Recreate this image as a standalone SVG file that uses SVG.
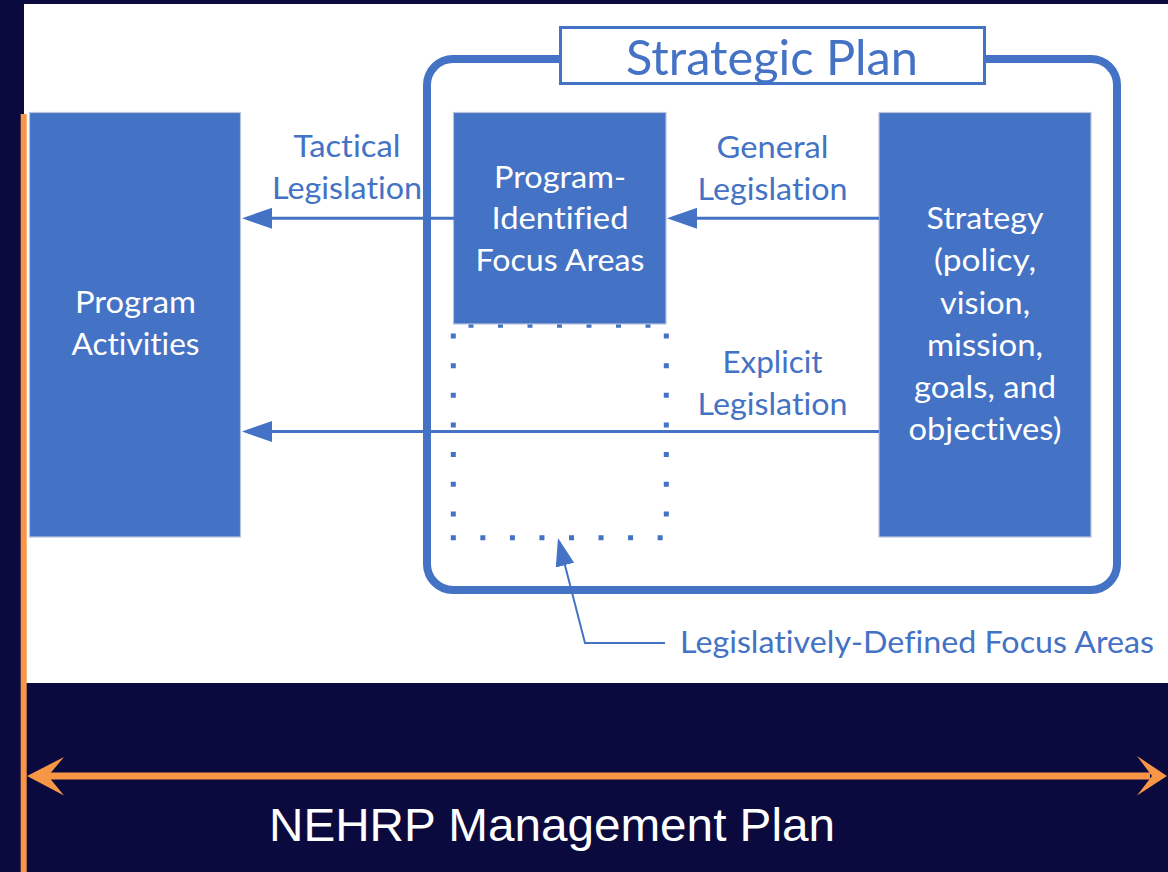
<svg xmlns="http://www.w3.org/2000/svg" width="1168" height="872" viewBox="0 0 1168 872">
<style>
.box{fill:#4472C4;stroke:#b9c4dc;stroke-width:1.2}
.lbl{font-family:Lato,"Open Sans","Noto Sans",sans-serif;font-size:31px;fill:#4472C4;text-anchor:middle;font-variant-ligatures:none}
.wht{font-family:Lato,"Open Sans","Noto Sans",sans-serif;font-size:31px;fill:#ffffff;text-anchor:middle;font-variant-ligatures:none}
.con{stroke:#4472C4;stroke-width:3;fill:none}
.dot{stroke:#4472C4;stroke-width:5;fill:none}
.org{stroke:#F79646;fill:none}
</style>
<defs>
<marker id="arr" markerUnits="userSpaceOnUse" viewBox="0 0 30 21" refX="25" refY="10.5" markerWidth="30" markerHeight="21" orient="auto">
<path d="M0,0 L30,10.5 L0,21 z" fill="#4472C4"/>
</marker>
<marker id="arrS" markerUnits="userSpaceOnUse" viewBox="0 0 28 19" refX="24" refY="9.5" markerWidth="28" markerHeight="19" orient="auto">
<path d="M0,0 L28,9.5 L0,19 z" fill="#4472C4"/>
</marker>
</defs>
<rect x="0" y="0" width="1168" height="872" fill="#0a0a3e"/>
<rect x="24" y="4" width="1144" height="679" fill="#ffffff"/>

<g id="strategic-plan">
<rect x="427" y="59" width="690" height="531" rx="26" ry="26" fill="none" stroke="#4472C4" stroke-width="8"/>
<rect x="560.5" y="27.5" width="424" height="56" fill="#ffffff" stroke="#4472C4" stroke-width="3"/>
<text x="772" y="75" class="lbl" style="font-size:47.5px" textLength="292" lengthAdjust="spacingAndGlyphs">Strategic Plan</text>
</g>

<g id="legislatively-defined-focus-areas">
<line class="dot" x1="453.3" y1="333.5" x2="453.3" y2="540.5" stroke-dasharray="5 24.65"/>
<line class="dot" x1="666.3" y1="333.5" x2="666.3" y2="540.5" stroke-dasharray="5 24.65"/>
<line class="dot" x1="450.8" y1="537.7" x2="663" y2="537.7" stroke-dasharray="5 24.55"/>
<line class="dot" x1="468.5" y1="325.3" x2="651" y2="325.3" stroke-dasharray="5 24.5"/>
<text x="680" y="653" class="lbl" style="text-anchor:start" textLength="474" lengthAdjust="spacingAndGlyphs">Legislatively-Defined Focus Areas</text>
</g>

<g id="program-activities">
<rect class="box" x="29.5" y="112.5" width="211" height="424.5"/>
<text x="135.5" y="313" class="wht" textLength="121" lengthAdjust="spacingAndGlyphs">Program</text>
<text x="135.5" y="355" class="wht" textLength="128" lengthAdjust="spacingAndGlyphs">Activities</text>
</g>

<g id="focus-areas">
<rect class="box" x="453.5" y="112.5" width="212.5" height="211.5"/>
<text x="560" y="188" class="wht" textLength="132" lengthAdjust="spacingAndGlyphs">Program-</text>
<text x="560" y="229" class="wht" textLength="137" lengthAdjust="spacingAndGlyphs">Identified</text>
<text x="560" y="271" class="wht" textLength="169" lengthAdjust="spacingAndGlyphs">Focus Areas</text>
</g>

<g id="strategy">
<rect class="box" x="879" y="112.5" width="212" height="424.5"/>
<text x="985" y="229" class="wht" textLength="117" lengthAdjust="spacingAndGlyphs">Strategy</text>
<text x="985" y="271" class="wht" textLength="102" lengthAdjust="spacingAndGlyphs">(policy,</text>
<text x="985" y="313.5" class="wht" textLength="90" lengthAdjust="spacingAndGlyphs">vision,</text>
<text x="985" y="356" class="wht" textLength="116" lengthAdjust="spacingAndGlyphs">mission,</text>
<text x="985" y="398" class="wht" textLength="142" lengthAdjust="spacingAndGlyphs">goals, and</text>
<text x="985" y="440" class="wht" textLength="153" lengthAdjust="spacingAndGlyphs">objectives)</text>
</g>

<g id="connectors">
<line class="con" x1="454" y1="218.3" x2="247" y2="218.3" marker-end="url(#arr)"/>
<line class="con" x1="879" y1="218.3" x2="672" y2="218.3" marker-end="url(#arr)"/>
<line class="con" x1="879" y1="431.5" x2="247" y2="431.5" marker-end="url(#arr)"/>
<polyline class="con" style="stroke-width:2" points="665,643 585,643 559,541.9" marker-end="url(#arrS)"/>
</g>

<g id="connector-labels">
<text x="347" y="157" class="lbl" textLength="107" lengthAdjust="spacingAndGlyphs">Tactical</text>
<text x="347" y="199" class="lbl" textLength="150" lengthAdjust="spacingAndGlyphs">Legislation</text>
<text x="772.5" y="158" class="lbl" textLength="112" lengthAdjust="spacingAndGlyphs">General</text>
<text x="772.5" y="200" class="lbl" textLength="150" lengthAdjust="spacingAndGlyphs">Legislation</text>
<text x="772.5" y="373" class="lbl" textLength="100" lengthAdjust="spacingAndGlyphs">Explicit</text>
<text x="772.5" y="415" class="lbl" textLength="150" lengthAdjust="spacingAndGlyphs">Legislation</text>
</g>

<g id="nehrp-management-plan">
<line class="org" x1="23.7" y1="114" x2="23.7" y2="872" stroke-width="6"/>
<line class="org" x1="45" y1="776" x2="1150" y2="776" stroke-width="7"/>
<path d="M27,776 L64,757 L48,776 L64,795.5 z" fill="#F79646"/>
<path d="M1167,776 L1137,756 L1152,776 L1137,795.5 z" fill="#F79646"/>
<text x="269" y="841" style="font-family:'Liberation Sans',Arial,sans-serif;font-size:47px;fill:#ffffff" textLength="566" lengthAdjust="spacingAndGlyphs">NEHRP Management Plan</text>
</g>
</svg>
